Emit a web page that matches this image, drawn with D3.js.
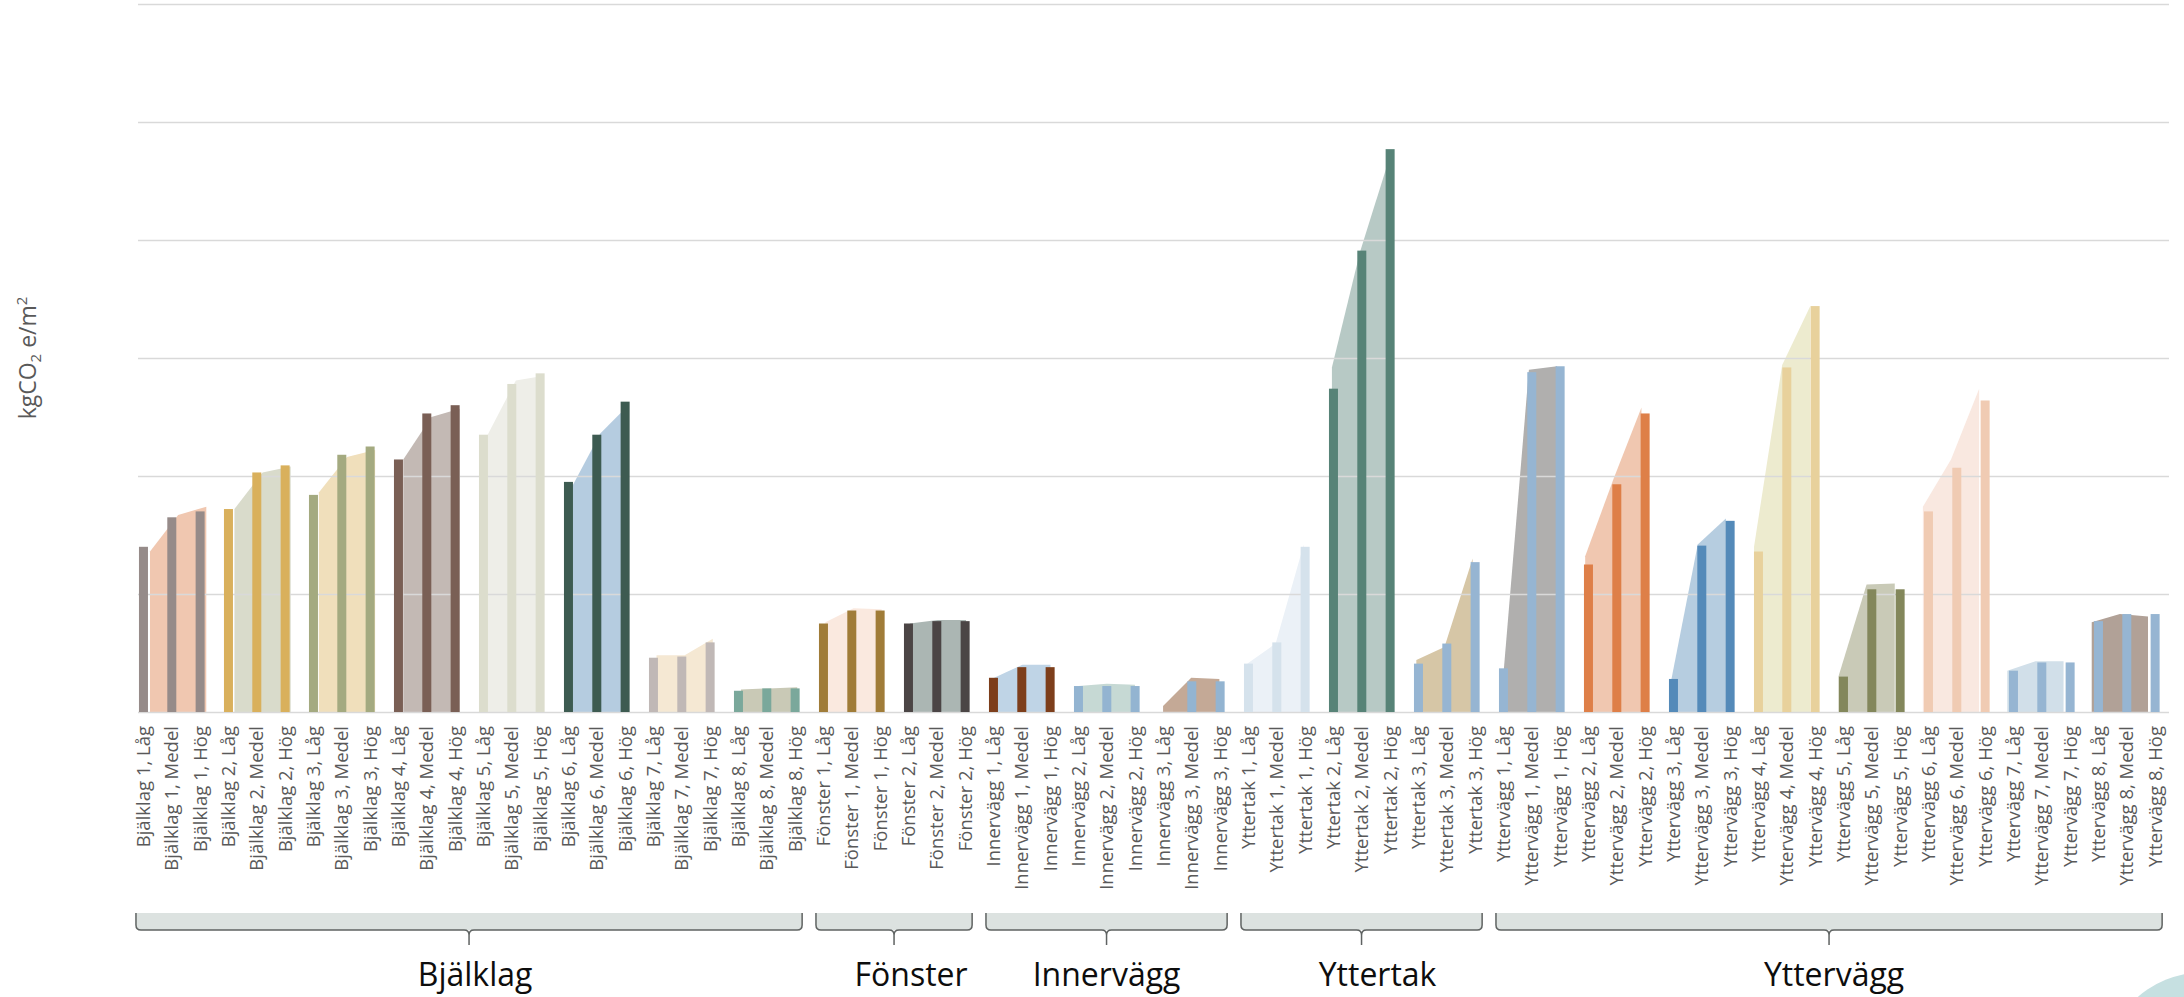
<!DOCTYPE html>
<html>
<head>
<meta charset="utf-8">
<script src="https://cdn.jsdelivr.net/npm/d3@7"></script>
<style>
  html, body { margin: 0; padding: 0; background: #fff; }
  svg { display: block; }
</style>
</head>
<body>
<div id="chart"></div>
<script>
// byggdelar och nivåer
const elements = [
  "Bjälklag 1", "Bjälklag 2", "Bjälklag 3", "Bjälklag 4", "Bjälklag 5", "Bjälklag 6", "Bjälklag 7", "Bjälklag 8",
  "Fönster 1", "Fönster 2",
  "Innervägg 1", "Innervägg 2", "Innervägg 3",
  "Yttertak 1", "Yttertak 2", "Yttertak 3",
  "Yttervägg 1", "Yttervägg 2", "Yttervägg 3", "Yttervägg 4", "Yttervägg 5", "Yttervägg 6", "Yttervägg 7", "Yttervägg 8"
];
const levels = ["Låg", "Medel", "Hög"];
const groups = ["Bjälklag", "Fönster", "Innervägg", "Yttertak", "Yttervägg"];
const groupSizes = [8, 2, 3, 3, 8];

const tickLabels = elements.flatMap(e => levels.map(l => `${e}, ${l}`));

// staplar (Låg, Medel, Hög per byggdel)
const barValues = [
  1.40, 1.65, 1.70,  1.72, 2.03, 2.09,  1.84, 2.18, 2.25,  2.14, 2.53, 2.60,
  2.35, 2.78, 2.87,  1.95, 2.35, 2.63,  0.46, 0.47, 0.59,  0.18, 0.20, 0.20,
  0.75, 0.86, 0.86,  0.75, 0.77, 0.77,
  0.29, 0.38, 0.38,  0.22, 0.22, 0.22,  0.00, 0.26, 0.26,
  0.41, 0.59, 1.40,  2.74, 3.91, 4.77,  0.41, 0.58, 1.27,
  0.37, 2.88, 2.93,  1.25, 1.93, 2.53,  0.28, 1.41, 1.62,  1.36, 2.92, 3.44,
  0.30, 1.04, 1.04,  1.70, 2.07, 2.64,  0.35, 0.42, 0.42,  0.77, 0.83, 0.83
];

// ytor bakom staplarna
const areaValues = [
  1.36, 1.67, 1.74,  1.72, 2.03, 2.08,  1.86, 2.16, 2.22,  2.14, 2.50, 2.57,
  2.35, 2.81, 2.85,  1.91, 2.36, 2.60,  0.48, 0.48, 0.62,  0.19, 0.20, 0.21,
  0.76, 0.88, 0.87,  0.75, 0.78, 0.78,
  0.29, 0.40, 0.40,  0.22, 0.24, 0.23,  0.05, 0.29, 0.28,
  0.41, 0.58, 1.42,  2.92, 3.90, 4.66,  0.44, 0.55, 1.30,
  0.05, 2.90, 2.93,  1.32, 1.97, 2.58,  0.20, 1.42, 1.64,  1.40, 2.94, 3.44,
  0.30, 1.08, 1.09,  1.74, 2.14, 2.74,  0.35, 0.43, 0.43,  0.76, 0.83, 0.81
];

const barColors = [
  "#968B89", "#D9B05C", "#A4AA80", "#7A5F55", "#DCDDCD", "#3D5B51", "#C0B8B6", "#7AA89B",
  "#A07C38", "#4B4545",
  "#7D3E1B", "#93B4D1", "#93B4D1",
  "#D5E2EC", "#578377", "#96B5D2",
  "#96B5D2", "#DE7F48", "#548AB9", "#E8D19C", "#83875B", "#F0CBB3", "#96B5D2", "#96B5D2"
];
const areaColors = [
  "#F0C7B0", "#D9DBCB", "#F0DFBB", "#C3B9B4", "#EEEEE8", "#B5CCE0", "#F5E8D3", "#C9C9B6",
  "#FAE9DF", "#ABB6B3",
  "#BFD4E6", "#C6D9D4", "#C4A996",
  "#EBF1F7", "#B7C9C5", "#D6C6A6",
  "#B0AFAE", "#F0C7B0", "#B6CDE0", "#EDEBCF", "#C9CAB7", "#F9E8E0", "#D1DFE9", "#B1A197"
];

const yTicks = [0, 1, 2, 3, 4, 5, 6];

const W = 2184, H = 997;
const plotLeft = 138, plotRight = 2169, plotTop = 4, plotBottom = 712;
// gruppnamnen sitter lite till höger om klammerns mitt
const labelShift = [6, 17, 0, 16, 5];

const svg = d3.select("#chart").append("svg")
  .attr("width", W)
  .attr("height", H)
  .style("background", "#fff");

const n = tickLabels.length;

const x = d3.scalePoint()
  .domain(d3.range(n))
  .range([129.3, 2169.3])
  .padding(0.5);

// ytorna ligger på en något annan kategoriaxel
const ax = d3.scaleLinear()
  .domain([0, n - 1])
  .range([150, 2148]);

const y = d3.scaleLinear()
  .domain([0, 6])
  .range([plotBottom, plotTop]);

// ytor
const area = d3.area()
  .x(d => ax(d.i))
  .y0(y(0))
  .y1(d => y(d.v));

const areaG = svg.append("g");
elements.forEach((e, gi) => {
  const pts = levels.map((l, k) => ({ i: gi * 3 + k, v: areaValues[gi * 3 + k] }));
  areaG.append("path")
    .datum(pts)
    .attr("fill", areaColors[gi])
    .attr("d", area);
});

// stödlinjer
svg.append("g")
  .attr("transform", `translate(${plotLeft},0)`)
  .call(d3.axisLeft(y).tickValues(yTicks).tickSize(-(plotRight - plotLeft)).tickFormat(""))
  .call(g => g.select(".domain").remove())
  .call(g => g.selectAll(".tick line").attr("stroke", "#D9D9D9").attr("stroke-width", 1.5));

// staplar
svg.append("g")
  .selectAll("rect")
  .data(barValues)
  .enter()
  .append("rect")
  .attr("x", (d, i) => x(i) - 4.5)
  .attr("width", 9)
  .attr("y", d => y(d))
  .attr("height", d => y(0) - y(d))
  .attr("fill", (d, i) => barColors[Math.floor(i / 3)]);

// kategorietiketter
svg.append("g")
  .selectAll("text")
  .data(tickLabels)
  .enter()
  .append("text")
  .attr("transform", (d, i) => `translate(${x(i)},726) rotate(-90)`)
  .attr("dy", "0.35em")
  .attr("text-anchor", "end")
  .style("font-family", "'Open Sans', sans-serif")
  .style("font-size", "18.5px")
  .style("fill", "#595959")
  .text(d => d);

// y-axelns rubrik
const yTitle = svg.append("text")
  .attr("transform", "translate(36,358) rotate(-90)")
  .attr("text-anchor", "middle")
  .style("font-family", "'Open Sans', sans-serif")
  .style("font-size", "23px")
  .style("fill", "#595959");
yTitle.append("tspan").text("kgCO");
yTitle.append("tspan").attr("dy", 5).style("font-size", "15px").text("2");
yTitle.append("tspan").attr("dy", -5).text(" e/m");
yTitle.append("tspan").attr("dy", -9).style("font-size", "15px").text("2");

// klammer och gruppnamn
const braceTop = 913, braceBot = 930, braceTip = 945, r = 5;
let start = 0;
groups.forEach((gname, gi) => {
  const first = start * 3;
  const last = (start + groupSizes[gi]) * 3 - 1;
  start += groupSizes[gi];
  const xL = x(first) - 7.5, xR = x(last) + 7, cx = (xL + xR) / 2;

  svg.append("path")
    .attr("d", `M${xL},${braceTop} H${xR} V${braceBot - r} Q${xR},${braceBot} ${xR - r},${braceBot} H${xL + r} Q${xL},${braceBot} ${xL},${braceBot - r} Z`)
    .attr("fill", "#DCE2E0");

  svg.append("path")
    .attr("d", `M${xL},${braceTop} V${braceBot - r} Q${xL},${braceBot} ${xL + r},${braceBot} H${cx - r} Q${cx},${braceBot} ${cx},${braceBot + r} V${braceTip}` +
               ` M${cx},${braceBot + r} Q${cx},${braceBot} ${cx + r},${braceBot} H${xR - r} Q${xR},${braceBot} ${xR},${braceBot - r} V${braceTop}`)
    .attr("fill", "none")
    .attr("stroke", "#5F6362")
    .attr("stroke-width", 1.5);

  svg.append("text")
    .attr("x", cx + labelShift[gi])
    .attr("y", 986)
    .attr("text-anchor", "middle")
    .style("font-family", "'Open Sans', sans-serif")
    .style("font-size", "32px")
    .style("fill", "#0D0D0D")
    .text(gname);
});

// dekorativ cirkel i hörnet
svg.append("circle")
  .attr("cx", 2205)
  .attr("cy", 1075)
  .attr("r", 103)
  .attr("fill", "#C6E0E1");
</script>
</body>
</html>
